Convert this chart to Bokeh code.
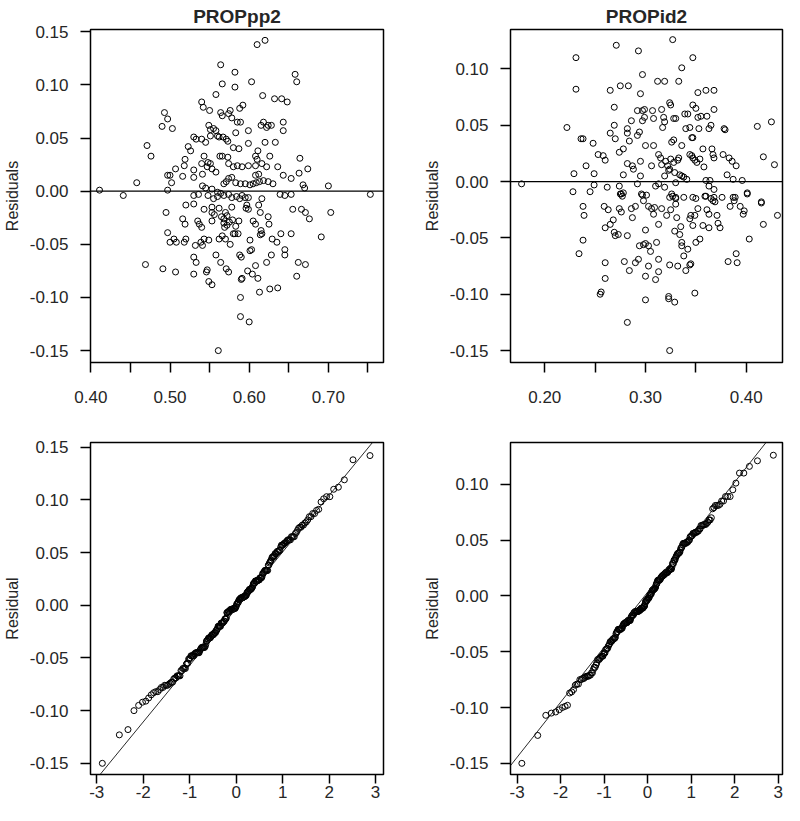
from statistics import NormalDist
import numpy as np
from bokeh.plotting import figure
from bokeh.layouts import column, row
from bokeh.models import Span, Slope, FixedTicker, PrintfTickFormatter
from bokeh.embed import file_html
from bokeh.resources import INLINE

# ---------------- data ----------------
# PROPpp2: fitted values (x) and residuals (y)
pp2_fitted = [
    0.411, 0.441, 0.458, 0.471, 0.476, 0.493, 0.497, 0.490, 0.503, 0.497,
    0.500, 0.502, 0.497, 0.507, 0.516, 0.518, 0.519, 0.523, 0.526, 0.530,
    0.533, 0.530, 0.530, 0.540, 0.542, 0.540, 0.545, 0.543, 0.540, 0.541,
    0.547, 0.550, 0.549, 0.551, 0.555, 0.558, 0.551, 0.548, 0.551, 0.553,
    0.558, 0.558, 0.564, 0.566, 0.564, 0.566, 0.560, 0.562, 0.563, 0.566,
    0.567, 0.571, 0.573, 0.576, 0.574, 0.578, 0.582, 0.582, 0.583, 0.580,
    0.587, 0.585, 0.589, 0.588, 0.592, 0.573, 0.574, 0.580, 0.585, 0.591,
    0.599, 0.599, 0.599, 0.603, 0.610, 0.620, 0.617, 0.615, 0.618, 0.622,
    0.624, 0.628, 0.620, 0.611, 0.608, 0.610, 0.608, 0.616, 0.622, 0.626,
    0.632, 0.641, 0.648, 0.643, 0.643, 0.633, 0.636, 0.643, 0.653, 0.658,
    0.660, 0.664, 0.663, 0.674, 0.668, 0.670, 0.700, 0.753, 0.530, 0.541,
    0.545, 0.553, 0.560, 0.568, 0.571, 0.574, 0.578, 0.583, 0.589, 0.595,
    0.601, 0.605, 0.609, 0.613, 0.618, 0.624, 0.630, 0.608, 0.612, 0.616,
    0.639, 0.645, 0.653, 0.599, 0.591, 0.495, 0.497, 0.500, 0.505, 0.508,
    0.518, 0.520, 0.516, 0.519, 0.520, 0.469, 0.491, 0.507, 0.530, 0.530,
    0.533, 0.532, 0.535, 0.537, 0.540, 0.539, 0.541, 0.543, 0.543, 0.530,
    0.547, 0.546, 0.549, 0.553, 0.549, 0.553, 0.553, 0.558, 0.564, 0.566,
    0.562, 0.561, 0.568, 0.570, 0.572, 0.569, 0.570, 0.571, 0.574, 0.576,
    0.578, 0.580, 0.582, 0.587, 0.588, 0.590, 0.589, 0.589, 0.591, 0.590,
    0.600, 0.598, 0.601, 0.601, 0.603, 0.604, 0.608, 0.611, 0.613, 0.599,
    0.605, 0.608, 0.612, 0.614, 0.615, 0.614, 0.616, 0.622, 0.624, 0.625,
    0.626, 0.628, 0.629, 0.635, 0.636, 0.640, 0.645, 0.645, 0.653, 0.655,
    0.660, 0.662, 0.666, 0.671, 0.671, 0.676, 0.691, 0.703, 0.536, 0.548,
    0.555, 0.560, 0.564, 0.568, 0.574, 0.578, 0.584, 0.588, 0.595, 0.553,
    0.556, 0.562, 0.565, 0.568, 0.572, 0.575, 0.579, 0.583, 0.586, 0.596,
    0.597,
]
pp2_resid = [
    0.001, -0.004, 0.008, 0.043, 0.033, 0.074, 0.068, 0.061, 0.059, 0.015,
    0.015, 0.008, 0.001, 0.021, 0.014, 0.024, 0.030, 0.042, 0.038, 0.051,
    0.049, 0.020, 0.013, 0.084, 0.079, 0.049, 0.046, 0.033, 0.026, 0.016,
    0.023, 0.076, 0.062, 0.058, 0.059, 0.057, 0.052, 0.027, 0.026, 0.021,
    0.018, 0.091, 0.119, 0.101, 0.074, 0.071, 0.052, 0.051, 0.033, 0.033,
    0.051, 0.049, 0.047, 0.076, 0.073, 0.069, 0.112, 0.098, 0.055, 0.041,
    0.040, 0.065, 0.065, 0.078, 0.081, 0.032, 0.026, 0.023, 0.024, 0.023,
    0.057, 0.045, 0.024, 0.103, 0.138, 0.142, 0.090, 0.062, 0.065, 0.060,
    0.062, 0.062, 0.046, 0.038, 0.033, 0.030, 0.024, 0.026, 0.023, 0.033,
    0.087, 0.087, 0.084, 0.065, 0.057, 0.046, 0.023, 0.015, 0.012, 0.110,
    0.103, 0.031, 0.017, 0.021, 0.006, 0.003, 0.005, -0.003, -0.004, 0.005,
    0.003, 0.002, -0.001, 0.007, 0.009, 0.012, 0.013, 0.008, 0.007, 0.007,
    0.006, 0.007, 0.008, 0.009, 0.010, 0.009, 0.007, 0.015, 0.016, -0.007,
    -0.003, -0.004, -0.003, -0.006, -0.004, -0.020, -0.039, -0.048, -0.045, -0.048,
    -0.048, -0.045, -0.026, -0.031, -0.013, -0.069, -0.073, -0.076, -0.078, -0.062,
    -0.067, -0.051, -0.028, -0.031, -0.034, -0.048, -0.051, -0.045, -0.017, -0.012,
    -0.074, -0.076, -0.085, -0.088, -0.046, -0.028, -0.015, -0.060, -0.067, -0.042,
    -0.045, -0.150, -0.026, -0.020, -0.023, -0.034, -0.045, -0.073, -0.076, -0.050,
    -0.015, -0.040, -0.040, -0.028, -0.060, -0.062, -0.100, -0.118, -0.082, -0.083,
    -0.123, -0.075, -0.046, -0.056, -0.055, -0.078, -0.070, -0.082, -0.095, -0.017,
    -0.028, -0.031, -0.013, -0.020, -0.037, -0.041, -0.040, -0.067, -0.024, -0.031,
    -0.092, -0.060, -0.045, -0.048, -0.091, -0.040, -0.055, -0.060, -0.040, -0.017,
    -0.080, -0.067, -0.017, -0.069, -0.020, -0.026, -0.043, -0.020, -0.003, -0.004,
    -0.007, -0.005, -0.002, -0.004, -0.003, -0.006, -0.005, -0.007, -0.006, -0.020,
    -0.022, -0.016, -0.024, -0.030, -0.032, -0.029, -0.027, -0.033, -0.040, -0.016,
    -0.013,
]

# PROPid2: fitted values (x) and residuals (y)
id2_fitted = [
    0.177, 0.222, 0.231, 0.231, 0.229, 0.236, 0.238, 0.241, 0.248, 0.249,
    0.253, 0.258, 0.260, 0.265, 0.269, 0.269, 0.265, 0.270, 0.271, 0.275,
    0.283, 0.274, 0.278, 0.278, 0.282, 0.282, 0.284, 0.286, 0.282, 0.287,
    0.288, 0.292, 0.292, 0.293, 0.294, 0.295, 0.295, 0.297, 0.295, 0.297,
    0.299, 0.299, 0.297, 0.300, 0.308, 0.307, 0.308, 0.306, 0.312, 0.319,
    0.313, 0.315, 0.316, 0.316, 0.318, 0.317, 0.319, 0.319, 0.324, 0.325,
    0.323, 0.327, 0.328, 0.330, 0.326, 0.328, 0.336, 0.333, 0.336, 0.320,
    0.322, 0.324, 0.325, 0.328, 0.332, 0.333, 0.329, 0.334, 0.336, 0.338,
    0.330, 0.341, 0.339, 0.340, 0.342, 0.344, 0.346, 0.347, 0.347, 0.347,
    0.350, 0.344, 0.346, 0.347, 0.349, 0.351, 0.352, 0.352, 0.353, 0.355,
    0.357, 0.354, 0.358, 0.360, 0.361, 0.363, 0.365, 0.366, 0.368, 0.368,
    0.367, 0.368, 0.360, 0.364, 0.363, 0.368, 0.377, 0.378, 0.379, 0.381,
    0.383, 0.386, 0.390, 0.387, 0.396, 0.401, 0.411, 0.425, 0.417, 0.428,
    0.415, 0.228, 0.249, 0.245, 0.262, 0.274, 0.276, 0.278, 0.292, 0.296,
    0.301, 0.310, 0.313, 0.319, 0.327, 0.330, 0.338, 0.347, 0.359, 0.368,
    0.387, 0.238, 0.239, 0.238, 0.234, 0.255, 0.256, 0.260, 0.260, 0.259,
    0.263, 0.260, 0.265, 0.268, 0.269, 0.270, 0.273, 0.274, 0.276, 0.279,
    0.282, 0.282, 0.284, 0.286, 0.287, 0.290, 0.290, 0.293, 0.294, 0.298,
    0.298, 0.300, 0.300, 0.300, 0.300, 0.303, 0.303, 0.305, 0.303, 0.306,
    0.308, 0.309, 0.311, 0.313, 0.313, 0.310, 0.313, 0.316, 0.321, 0.323,
    0.323, 0.325, 0.324, 0.324, 0.324, 0.329, 0.329, 0.330, 0.331, 0.332,
    0.334, 0.335, 0.336, 0.336, 0.338, 0.340, 0.342, 0.344, 0.344, 0.345,
    0.345, 0.347, 0.349, 0.349, 0.350, 0.352, 0.354, 0.357, 0.361, 0.363,
    0.363, 0.365, 0.371, 0.372, 0.374, 0.376, 0.382, 0.384, 0.389, 0.390,
    0.391, 0.394, 0.397, 0.398, 0.403, 0.401, 0.415, 0.417, 0.431, 0.275,
    0.277, 0.297, 0.326, 0.330, 0.350, 0.360, 0.367, 0.369, 0.388,
]
id2_resid = [
    -0.002, 0.048, 0.110, 0.082, 0.007, 0.038, 0.038, 0.014, 0.034, 0.007,
    0.024, 0.023, 0.019, 0.081, 0.066, 0.050, 0.043, 0.038, 0.121, 0.085,
    0.085, 0.026, 0.029, 0.006, 0.047, 0.043, 0.036, 0.054, 0.016, 0.014,
    0.011, 0.063, 0.041, 0.116, 0.044, 0.018, 0.005, 0.095, 0.078, 0.063,
    0.064, 0.057, 0.054, 0.032, 0.032, 0.063, 0.056, 0.014, 0.089, 0.089,
    0.024, 0.021, 0.015, 0.064, 0.057, 0.048, 0.053, 0.005, 0.070, 0.068,
    0.010, 0.126, 0.056, 0.056, 0.035, 0.037, 0.032, 0.089, 0.101, 0.018,
    0.014, 0.011, 0.020, 0.017, 0.019, 0.021, 0.008, 0.006, 0.005, 0.004,
    -0.001, 0.002, 0.060, 0.047, 0.060, 0.048, 0.039, 0.039, 0.110, 0.068,
    0.065, 0.024, 0.023, 0.021, 0.019, 0.017, 0.057, 0.079, 0.047, 0.058,
    0.029, 0.020, 0.013, 0.081, 0.058, 0.047, 0.050, 0.029, 0.081, 0.064,
    0.024, 0.021, 0.001, 0.001, -0.004, -0.007, 0.024, 0.047, 0.046, 0.006,
    0.021, 0.018, 0.014, 0.002, 0.001, -0.010, 0.049, 0.053, 0.022, 0.015,
    -0.018, -0.009, -0.003, -0.009, -0.005, -0.004, -0.011, -0.010, -0.002, -0.011,
    -0.012, -0.004, -0.002, -0.005, -0.013, -0.014, -0.014, -0.014, -0.013, -0.014,
    -0.014, -0.022, -0.030, -0.052, -0.064, -0.100, -0.098, -0.072, -0.086, -0.022,
    -0.025, -0.041, -0.038, -0.034, -0.045, -0.048, -0.047, -0.024, -0.027, -0.071,
    -0.048, -0.125, -0.079, -0.024, -0.032, -0.022, -0.072, -0.069, -0.057, -0.056,
    -0.017, -0.043, -0.055, -0.084, -0.105, -0.057, -0.075, -0.062, -0.022, -0.024,
    -0.029, -0.023, -0.054, -0.038, -0.069, -0.087, -0.080, -0.024, -0.030, -0.104,
    -0.102, -0.025, -0.014, -0.074, -0.150, -0.044, -0.107, -0.020, -0.032, -0.075,
    -0.047, -0.040, -0.054, -0.057, -0.066, -0.079, -0.060, -0.033, -0.074, -0.073,
    -0.030, -0.039, -0.030, -0.099, -0.054, -0.024, -0.051, -0.039, -0.025, -0.041,
    -0.029, -0.015, -0.030, -0.037, -0.041, -0.014, -0.071, -0.022, -0.014, -0.064,
    -0.072, -0.022, -0.029, -0.026, -0.051, -0.011, -0.019, -0.038, -0.030, -0.011,
    -0.013, -0.012, -0.011, -0.015, -0.015, -0.013, -0.017, -0.018, -0.017,
]

titles = ["PROPpp2", "PROPid2"]
resid_ticks = [-0.15, -0.10, -0.05, 0.00, 0.05, 0.10, 0.15]
pp2_xticks = [0.40, 0.45, 0.50, 0.55, 0.60, 0.65, 0.70, 0.75]
pp2_hidden = [0.45, 0.55, 0.65, 0.75]
id2_xticks = [0.20, 0.25, 0.30, 0.35, 0.40]
id2_hidden = [0.25, 0.35]
qq_ticks = [-3, -2, -1, 0, 1, 2, 3]

FONT = "Liberation Sans"
TXT = "#262626"


def style(p, ylab, xticks, yticks, xfmt, hidden=(), xstand=18, tick_out=10):
    p.outline_line_color = "black"
    p.outline_line_width = 1.5
    p.background_fill_color = "white"
    p.border_fill_color = "white"
    p.grid.visible = False
    for ax in (p.xaxis[0], p.yaxis[0]):
        ax.axis_line_color = None
        ax.major_tick_out = tick_out
        ax.major_tick_in = 0
        ax.major_tick_line_width = 1.5
        ax.major_tick_line_color = "black"
        ax.minor_tick_line_color = None
        ax.major_label_text_font = FONT
        ax.major_label_text_font_size = "17px"
        ax.major_label_text_color = TXT
    p.yaxis[0].major_tick_out = 10
    p.xaxis[0].ticker = FixedTicker(ticks=xticks)
    p.xaxis[0].formatter = PrintfTickFormatter(format=xfmt)
    if hidden:
        p.xaxis[0].major_label_overrides = {h: "" for h in hidden}
    p.xaxis[0].major_label_standoff = xstand
    p.yaxis[0].ticker = FixedTicker(ticks=yticks)
    p.yaxis[0].formatter = PrintfTickFormatter(format="%.2f")
    p.yaxis[0].major_label_orientation = "horizontal"
    p.yaxis[0].major_label_standoff = 12
    p.yaxis[0].axis_label = ylab
    p.yaxis[0].axis_label_text_font = FONT
    p.yaxis[0].axis_label_text_font_size = "16px"
    p.yaxis[0].axis_label_text_font_style = "normal"
    p.yaxis[0].axis_label_text_color = TXT
    p.yaxis[0].axis_label_standoff = 6


def make_fig(w, h, xr, yr, bl, br, bt, bb, title=None):
    p = figure(width=w, height=h, x_range=xr, y_range=yr,
               output_backend="svg", toolbar_location=None,
               min_border_left=bl, min_border_right=br,
               min_border_top=bt, min_border_bottom=bb,
               title=title)
    if title:
        p.title.text_font = FONT
        p.title.text_font_size = "19px"
        p.title.text_font_style = "bold"
        p.title.text_color = TXT
        p.title.align = "center"
        p.title.standoff = 6
        p.title.offset = 0
    return p


def scatter(p, x, y):
    p.scatter(x, y, marker="circle", size=6, fill_color=None,
              line_color="black", line_width=1)


nd = NormalDist()


def qq_points(vals):
    s = sorted(vals)
    n = len(s)
    a = 0.375 if n <= 10 else 0.5
    qx = [nd.inv_cdf((i + 1 - a) / (n + 1 - 2 * a)) for i in range(n)]
    return qx, s


def qq_line(vals):
    y1, y2 = np.percentile(vals, [25, 75])
    x1, x2 = nd.inv_cdf(0.25), nd.inv_cdf(0.75)
    slope = (y2 - y1) / (x2 - x1)
    return slope, y1 - slope * x1


# ---------------- top row: residuals vs fitted ----------------
p1 = make_fig(420, 420, (0.3996, 0.7696), (-0.1612, 0.1522), 87, 37, 27, 58, titles[0])
scatter(p1, pp2_fitted, pp2_resid)
p1.add_layout(Span(location=0, dimension="width", line_color="black", line_width=1.3))
style(p1, "Residuals", pp2_xticks, resid_ticks, "%.2f", pp2_hidden)

p2 = make_fig(364, 420, (0.166, 0.436), (-0.1606, 0.1350), 80, 2, 27, 58, titles[1])
scatter(p2, id2_fitted, id2_resid)
p2.add_layout(Span(location=0, dimension="width", line_color="black", line_width=1.3))
style(p2, "Residuals", id2_xticks, resid_ticks[:-1], "%.2f", id2_hidden)

# ---------------- bottom row: normal QQ plots ----------------
p3 = make_fig(420, 385, (-3.134, 3.170), (-0.1606, 0.1544), 87, 37, 22, 31)
qx, qy = qq_points(pp2_resid)
scatter(p3, qx, qy)
s, b = qq_line(pp2_resid)
p3.add_layout(Slope(gradient=s, y_intercept=b, line_color="#111111", line_width=0.9))
style(p3, "Residual", qq_ticks, resid_ticks, "%d", xstand=2, tick_out=9)

p4 = make_fig(364, 385, (-3.15, 3.10), (-0.1600, 0.1374), 80, 2, 22, 31)
qx, qy = qq_points(id2_resid)
scatter(p4, qx, qy)
s, b = qq_line(id2_resid)
p4.add_layout(Slope(gradient=s, y_intercept=b, line_color="#111111", line_width=0.9))
style(p4, "Residual", qq_ticks, resid_ticks[:-1], "%d", xstand=2, tick_out=9)

layout = column(row(p1, p2), row(p3, p4))
open("out.html", "w").write(file_html(layout, INLINE))
